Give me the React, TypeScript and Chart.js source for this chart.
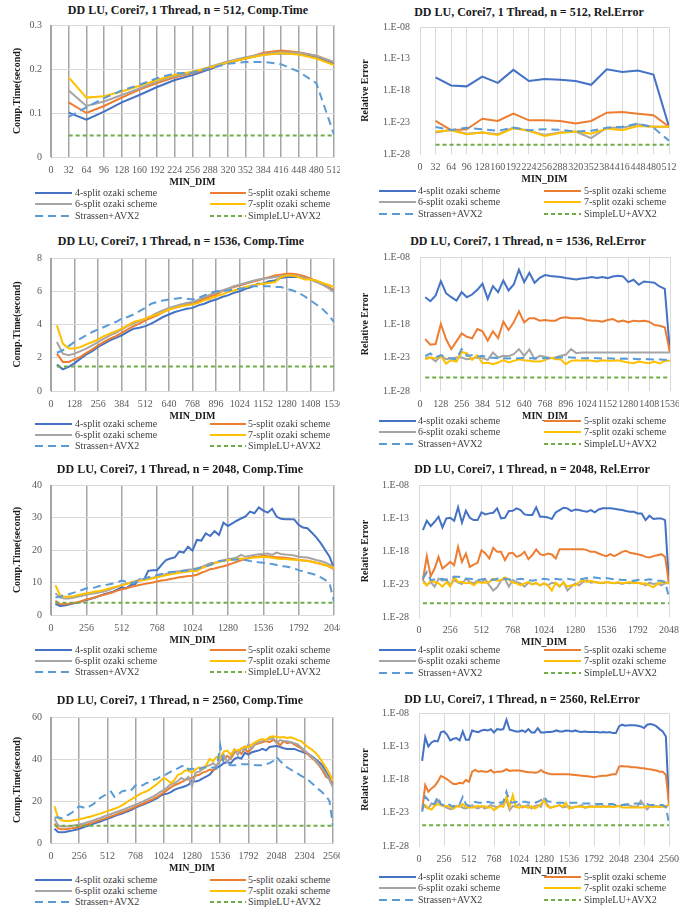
import React, { useEffect, useRef } from "react";
import { Chart, registerables } from "chart.js";

Chart.register(...registerables);

const FONT = '"Liberation Serif", "Times New Roman", serif';
Chart.defaults.font.family = FONT;

// MIN_DIM values (x)
const MIN_DIM = [32,64,96,128,160,192,224,256,288,320,352,384,416,448,480,512,544,576,608,640,672,704,736,768,800,832,864,896,928,960,992,1024,1056,1088,1120,1152,1184,1216,1248,1280,1312,1344,1376,1408,1440,1472,1504,1536,1568,1600,1632,1664,1696,1728,1760,1792,1824,1856,1888,1920,1952,1984,2016,2048,2080,2112,2144,2176,2208,2240,2272,2304,2336,2368,2400,2432,2464,2496,2528,2560];

const SERIES_NAMES = ["4-split ozaki scheme","5-split ozaki scheme","6-split ozaki scheme","7-split ozaki scheme","Strassen+AVX2","SimpleLU+AVX2"];
const SERIES_COLORS = ["#4472C4","#ED7D31","#A5A5A5","#FFC000","#5B9BD5","#70AD47"];
const SERIES_DASH = [[],[],[],[],[8,5],[4,3]];
const ERR_TICKS = [1e-28,1e-23,1e-18,1e-13,1e-8];

// ---------- n = 512 : computation time (s) ----------
const T512_4 = [0.101,0.085,0.103,0.124,0.141,0.159,0.175,0.186,0.200,0.215,0.224,0.233,0.236,0.234,0.227,0.213];
const T512_5 = [0.124,0.100,0.116,0.135,0.153,0.168,0.181,0.190,0.202,0.215,0.224,0.237,0.242,0.238,0.230,0.215];
const T512_6 = [0.151,0.116,0.126,0.141,0.156,0.172,0.184,0.192,0.205,0.217,0.227,0.234,0.238,0.237,0.230,0.216];
const T512_7 = [0.181,0.135,0.138,0.149,0.162,0.175,0.187,0.194,0.204,0.215,0.224,0.232,0.236,0.233,0.224,0.209];
const T512_S = [0.091,0.113,0.134,0.151,0.164,0.179,0.190,0.192,0.202,0.212,0.216,0.216,0.211,0.194,0.168,0.051];
const T512_L = [0.049,0.049,0.049,0.049,0.049,0.049,0.049,0.049,0.049,0.049,0.049,0.049,0.049,0.049,0.049,0.049];

// ---------- n = 512 : relative error (log10) ----------
const E512_4 = [-15.95,-17.2,-17.35,-15.8,-16.8,-14.75,-16.5,-16.2,-16.3,-16.5,-17.1,-14.65,-15.1,-14.85,-15.5,-23.7];
const E512_5 = [-22.8,-24.25,-24.1,-22.45,-22.8,-21.65,-22.7,-22.7,-22.8,-23.2,-22.8,-21.5,-21.4,-21.65,-21.9,-23.7];
const E512_6 = [-24.6,-24.2,-24.8,-24.6,-24.9,-23.85,-24.35,-25.0,-24.6,-24.45,-25.5,-23.85,-23.85,-23.3,-23.7,-23.7];
const E512_7 = [-24.45,-24.25,-24.9,-24.6,-25.0,-23.95,-24.35,-25.15,-24.7,-24.45,-24.8,-24.0,-24.25,-23.6,-23.7,-23.7];
const E512_S = [-23.75,-24.2,-23.85,-24.1,-24.35,-23.85,-24.25,-24.1,-24.2,-24.45,-24.35,-23.85,-23.7,-23.2,-23.85,-25.9];
const E512_L = [-26.55,-26.55,-26.55,-26.55,-26.55,-26.55,-26.55,-26.55,-26.55,-26.55,-26.55,-26.55,-26.55,-26.55,-26.55,-26.55];

// ---------- n = 1536 : computation time (s) ----------
const T1536_4 = [1.6,1.3,1.45,1.68,1.95,2.2,2.4,2.65,2.85,3.05,3.2,3.35,3.55,3.75,3.8,3.9,4.05,4.25,4.45,4.6,4.75,4.85,4.95,5.0,5.15,5.25,5.4,5.5,5.65,5.75,5.9,6.0,6.15,6.25,6.45,6.45,6.6,6.65,6.8,6.85,6.85,6.85,6.8,6.75,6.6,6.45,6.25,6.05];
const T1536_5 = [2.25,1.75,1.75,1.9,2.05,2.3,2.5,2.75,2.95,3.15,3.3,3.5,3.7,3.9,4.05,4.25,4.4,4.55,4.75,4.9,5.0,5.1,5.2,5.25,5.4,5.55,5.7,5.8,6.0,6.15,6.25,6.35,6.45,6.55,6.65,6.75,6.85,6.95,7.0,7.05,7.05,7.0,6.9,6.75,6.6,6.45,6.25,6.05];
const T1536_6 = [2.95,2.25,2.15,2.25,2.4,2.55,2.75,2.95,3.15,3.35,3.5,3.7,3.9,4.05,4.2,4.35,4.5,4.7,4.85,5.0,5.1,5.2,5.3,5.35,5.5,5.65,5.8,5.95,6.05,6.15,6.3,6.4,6.5,6.6,6.7,6.75,6.8,6.85,6.9,6.95,6.95,6.9,6.8,6.7,6.55,6.4,6.2,5.95];
const T1536_7 = [3.95,2.85,2.55,2.55,2.65,2.8,2.95,3.1,3.3,3.45,3.6,3.75,3.95,4.15,4.25,4.35,4.5,4.6,4.75,4.9,5.0,5.1,5.15,5.2,5.3,5.45,5.55,5.7,5.8,5.95,6.05,6.15,6.25,6.35,6.4,6.45,6.5,6.55,6.85,6.95,6.95,6.85,6.7,6.7,6.65,6.5,6.4,6.25];
const T1536_S = [2.3,2.45,2.7,2.95,3.15,3.35,3.55,3.7,3.85,4.0,4.15,4.35,4.45,4.6,4.8,5.0,5.25,5.35,5.45,5.5,5.55,5.6,5.55,5.5,5.6,5.75,5.9,6.0,6.0,6.05,6.1,6.15,6.2,6.3,6.3,6.3,6.3,6.25,6.25,6.15,6.05,5.9,5.7,5.45,5.2,4.95,4.6,4.15];
const T1536_L = [1.48,1.48,1.48,1.48,1.48,1.48,1.48,1.48,1.48,1.48,1.48,1.48,1.48,1.48,1.48,1.48,1.48,1.48,1.48,1.48,1.48,1.48,1.48,1.48,1.48,1.48,1.48,1.48,1.48,1.48,1.48,1.48,1.48,1.48,1.48,1.48,1.48,1.48,1.48,1.48,1.48,1.48,1.48,1.48,1.48,1.48,1.48,1.48];

// ---------- n = 1536 : relative error (log10) ----------
const E1536_4 = [-14,-14.6,-13.75,-11.6,-13.4,-14,-14.5,-13.25,-14,-13.6,-12.9,-12,-14.25,-12.35,-13.25,-11.5,-13,-12.1,-9.9,-11.75,-10.35,-11.85,-11.1,-10.7,-10.85,-10.9,-11,-11.15,-11.25,-11.35,-11.2,-11.15,-11,-11.15,-11,-11.15,-10.9,-10.8,-10.9,-11.75,-11.4,-12.15,-11.65,-11.75,-11.85,-12.4,-12.75,-22.25];
const E1536_5 = [-20.25,-21.1,-21,-18,-20.25,-21.75,-20.6,-19.4,-19.9,-20.15,-18.75,-19.1,-20.5,-19.1,-20.1,-17.65,-18.9,-17.75,-16.1,-17.75,-17.15,-17.15,-17.5,-17.4,-17.5,-17.5,-17.1,-17,-17.15,-17.15,-17.15,-17.4,-17.5,-17.5,-17.65,-17.4,-17.25,-17.65,-17.5,-17.75,-17.5,-17.6,-17.5,-17.65,-18.15,-18.25,-18.5,-22.25];
const E1536_6 = [-23,-23,-23.6,-22.75,-23.25,-23.1,-23,-23,-23.25,-23.15,-23,-23.1,-23.35,-22.25,-23,-22.75,-22.8,-22.5,-21.75,-22.75,-21.8,-23.25,-22.75,-22.9,-23.1,-23,-22.75,-22.6,-21.75,-22.35,-22.25,-22.25,-22.25,-22.25,-22.25,-22.25,-22.25,-22.25,-22.25,-22.25,-22.25,-22.25,-22.25,-22.25,-22.25,-22.25,-22.25,-22.25];
const E1536_7 = [-23.25,-23,-23.15,-22.75,-23.9,-23.4,-23.6,-22.15,-22.4,-23.35,-22.65,-23.85,-23.8,-24,-23.75,-23.4,-23.75,-23.5,-23.25,-23.4,-23.5,-23.6,-23.6,-23.4,-23,-23.25,-23.25,-24,-23.5,-23.4,-23.5,-23.4,-23.5,-23.6,-23.4,-23.5,-23.5,-23.4,-23.6,-23.75,-23.85,-23.6,-23.75,-23.85,-23.6,-23.9,-23.5,-23.5];
const E1536_S = [-22.75,-22.4,-23,-22.65,-23,-23.15,-23.25,-21.75,-22.75,-22.65,-22.9,-22.75,-23,-23.05,-23.1,-23.1,-23.15,-23.1,-23.1,-23.05,-23.1,-23.1,-23.15,-23.1,-23.1,-23.05,-23.0,-22.95,-23.0,-23.05,-23.1,-23.1,-23.05,-23.1,-23.15,-23.1,-23.15,-23.2,-23.15,-23.2,-23.2,-23.25,-23.2,-23.25,-23.3,-23.3,-23.35,-23.45];
const E1536_L = [-26,-26,-26,-26,-26,-26,-26,-26,-26,-26,-26,-26,-26,-26,-26,-26,-26,-26,-26,-26,-26,-26,-26,-26,-26,-26,-26,-26,-26,-26,-26,-26,-26,-26,-26,-26,-26,-26,-26,-26,-26,-26,-26,-26,-26,-26,-26,-26];

// ---------- n = 2048 : computation time (s) ----------
const T2048_4 = [3.4,2.8,2.9,3.2,3.5,3.8,4.2,4.6,5.0,5.4,5.9,6.4,6.8,7.2,7.8,8.5,8.2,9.2,9.5,11.0,10.8,13.6,13.8,13.8,15.4,16.9,17.4,17.7,19.5,19.2,21.0,19.8,23.1,22.9,25.1,24.3,25.8,24.6,28.4,27.4,28.2,29.0,29.7,30.3,31.8,31.3,33.1,32.1,31.5,32.7,30.3,29.6,29.5,29.5,29.4,27.7,26.9,26.7,25.3,23.9,22.1,20.0,17.9,14.4];
const T2048_5 = [4.4,3.4,3.3,3.5,3.7,3.9,4.3,4.8,5.1,5.5,5.9,6.2,6.6,7.0,7.5,7.9,8.2,8.6,8.9,9.2,9.5,9.8,10.0,10.3,10.6,10.8,11.1,11.3,11.6,11.8,12.0,12.1,12.4,13.0,13.5,14.1,14.3,14.7,15.0,15.4,15.9,16.4,16.8,17.2,17.6,17.9,18.0,18.2,18.1,17.9,17.8,17.7,17.6,17.4,17.2,16.9,16.8,16.7,16.4,16.1,15.8,15.4,14.8,14.1];
const T2048_6 = [6.7,5.4,5.1,5.1,5.3,5.6,5.9,6.2,6.5,6.7,7.0,7.2,7.7,8.2,8.7,9.2,9.6,10.0,10.4,10.8,11.0,11.3,11.5,11.8,12.2,12.6,12.9,13.3,13.5,13.7,13.9,14.1,14.4,14.7,15.3,15.9,16.1,16.4,16.8,17.2,17.4,17.7,18.5,17.9,18.2,18.5,18.7,18.8,18.9,18.5,19.2,18.8,18.6,18.5,18.3,17.9,17.8,17.7,17.3,16.9,16.6,16.2,15.5,14.7];
const T2048_7 = [9.2,6.2,5.6,5.6,5.8,6.1,6.4,6.7,6.9,7.2,7.4,7.7,8.1,8.5,8.8,9.2,9.5,9.9,10.2,10.5,10.8,11.0,11.3,11.6,11.9,12.2,12.5,12.8,13.0,13.2,13.4,13.6,13.5,14.4,14.9,15.4,15.9,16.4,16.6,16.9,17.0,17.2,17.3,17.4,17.5,17.7,17.8,17.9,17.8,17.6,17.4,17.2,17.2,17.1,17.0,16.9,16.8,16.6,16.4,16.1,15.7,15.3,14.9,14.4];
const T2048_S = [5.4,5.6,6.2,6.4,6.8,7.2,7.7,8.2,8.3,8.5,8.9,9.2,9.4,9.7,10.1,10.6,10.3,9.7,10.1,10.6,11.1,11.6,12.0,12.3,12.6,13.0,13.2,13.3,13.4,13.6,13.7,13.8,14.2,14.7,15.0,15.4,16.0,16.6,16.8,16.9,17.0,17.1,17.0,16.9,16.6,16.4,16.2,16.1,15.9,15.7,15.4,15.1,14.9,14.7,14.3,13.8,13.4,13.0,12.7,12.3,11.6,10.8,9.7,4.1];
const T2048_L = [3.8,3.8,3.8,3.8,3.8,3.8,3.8,3.8,3.8,3.8,3.8,3.8,3.8,3.8,3.8,3.8,3.8,3.8,3.8,3.8,3.8,3.8,3.8,3.8,3.8,3.8,3.8,3.8,3.8,3.8,3.8,3.8,3.8,3.8,3.8,3.8,3.8,3.8,3.8,3.8,3.8,3.8,3.8,3.8,3.8,3.8,3.8,3.8,3.8,3.8,3.8,3.8,3.8,3.8,3.8,3.8,3.8,3.8,3.8,3.8,3.8,3.8,3.8,3.8];

// ---------- n = 2048 : relative error (log10) ----------
const E2048_4 = [-14.84,-13.42,-14.23,-13.57,-12.81,-14.43,-13.06,-12.96,-13.42,-11.39,-13.72,-11.90,-12.96,-13.32,-13.32,-12.15,-12.46,-12.30,-12.20,-11.54,-13.06,-12.96,-11.95,-11.90,-11.54,-11.80,-12.46,-12.56,-12.56,-11.39,-12.81,-12.81,-12.91,-13.16,-12.15,-11.80,-11.44,-11.54,-11.95,-11.70,-11.80,-11.95,-12.05,-11.80,-12.15,-11.70,-11.54,-11.54,-11.54,-11.59,-11.70,-11.80,-11.95,-12.05,-12.05,-12.30,-12.30,-13.32,-12.66,-13.16,-13.06,-13.06,-13.32,-22.94];
const E2048_5 = [-22.43,-18.78,-21.82,-20.66,-18.89,-20.66,-20.15,-19.65,-20.15,-17.37,-19.65,-18.38,-20.41,-20.05,-19.80,-17.87,-18.38,-19.14,-17.52,-18.13,-18.13,-19.39,-18.38,-18.28,-18.89,-18.63,-18.13,-19.24,-18.63,-17.77,-18.48,-18.63,-18.38,-18.53,-19.14,-17.72,-17.72,-17.72,-17.72,-17.72,-17.72,-17.72,-17.87,-18.13,-18.13,-18.38,-18.63,-18.78,-18.48,-18.78,-18.48,-18.13,-17.97,-18.28,-18.38,-18.48,-18.63,-18.89,-18.99,-18.78,-18.63,-18.48,-18.89,-22.94];
const E2048_6 = [-22.4,-23.2,-22.7,-23.4,-22.2,-22.5,-22.3,-23.2,-22.4,-22.8,-23.0,-22.2,-22.7,-22.9,-22.5,-22.7,-22.3,-23.2,-24.0,-23.5,-22.5,-22.2,-23.4,-22.4,-22.7,-22.9,-23.4,-22.8,-23.0,-22.9,-23.2,-22.9,-23.2,-22.8,-22.9,-23.4,-22.7,-24.0,-23.4,-22.9,-23.2,-22.7,-22.4,-22.8,-22.7,-22.8,-22.9,-22.7,-22.8,-22.9,-22.8,-23.0,-22.8,-22.9,-22.7,-22.8,-22.9,-23.2,-22.8,-23.0,-22.9,-23.2,-22.9,-22.9];
const E2048_7 = [-22.7,-23.2,-22.5,-22.7,-22.9,-23.4,-22.7,-23.4,-21.9,-22.7,-22.7,-22.9,-22.8,-23.2,-22.7,-22.8,-22.8,-22.7,-22.2,-22.5,-22.4,-22.0,-22.3,-22.8,-22.9,-23.2,-22.9,-22.7,-23.1,-22.8,-23.2,-22.9,-23.2,-24.0,-22.8,-23.3,-22.8,-23.4,-23.2,-23.2,-22.7,-22.4,-22.7,-22.5,-22.7,-22.8,-22.8,-22.7,-22.8,-22.9,-22.7,-22.9,-22.8,-22.7,-22.9,-22.8,-23.0,-22.9,-23.2,-23.5,-23.0,-22.8,-22.7,-22.9];
const E2048_S = [-22.2,-21.2,-22.4,-22.3,-22.3,-22.2,-22.4,-22.2,-21.9,-21.9,-22.0,-22.2,-22.2,-22.3,-22.4,-22.3,-22.2,-22.3,-22.4,-22.2,-22.1,-22.2,-22.3,-22.4,-22.3,-22.2,-22.3,-22.4,-22.5,-22.4,-22.3,-22.2,-22.3,-22.4,-22.2,-22.3,-22.3,-22.2,-22.3,-22.4,-22.3,-22.2,-22.1,-22.0,-22.0,-22.1,-22.2,-22.1,-22.2,-22.3,-22.3,-22.4,-22.4,-22.5,-22.5,-22.4,-22.3,-22.4,-22.3,-22.4,-22.5,-22.5,-22.7,-25.0];
const E2048_L = [-25.9,-25.9,-25.9,-25.9,-25.9,-25.9,-25.9,-25.9,-25.9,-25.9,-25.9,-25.9,-25.9,-25.9,-25.9,-25.9,-25.9,-25.9,-25.9,-25.9,-25.9,-25.9,-25.9,-25.9,-25.9,-25.9,-25.9,-25.9,-25.9,-25.9,-25.9,-25.9,-25.9,-25.9,-25.9,-25.9,-25.9,-25.9,-25.9,-25.9,-25.9,-25.9,-25.9,-25.9,-25.9,-25.9,-25.9,-25.9,-25.9,-25.9,-25.9,-25.9,-25.9,-25.9,-25.9,-25.9,-25.9,-25.9,-25.9,-25.9,-25.9,-25.9,-25.9,-25.9];

// ---------- n = 2560 : computation time (s) ----------
const T2560_4 = [6.8,5.2,5.1,5.2,5.6,5.9,6.3,6.8,7.4,8.0,8.5,9.1,9.7,10.2,10.9,11.5,12.1,12.8,13.4,13.9,14.6,15.2,15.9,16.9,17.6,18.2,18.9,19.6,20.4,21.2,22.4,23.2,23.5,24.2,25.3,26.0,26.4,27.0,27.8,29.5,29.3,29.7,30.8,31.6,32.5,34.5,35.8,36.7,38.0,38.5,38.0,40.0,40.8,40.2,42.9,42.1,43.2,43.7,44.1,44.8,44.1,45.7,46.0,46.3,45.7,45.1,44.8,44.8,44.8,44.1,43.5,42.9,42.4,41.3,40.0,38.6,37.0,34.1,31.0,27.0];
const T2560_5 = [9.2,7.0,6.6,6.6,6.8,7.0,7.3,7.7,8.2,8.7,9.2,9.8,10.4,10.9,11.5,12.1,12.7,13.3,13.9,14.5,15.1,15.8,16.5,17.3,18.0,18.7,19.4,20.2,21.0,21.9,22.9,24.0,25.3,26.5,27.5,28.2,29.0,29.8,30.5,31.0,32.0,32.5,33.5,34.0,35.0,34.5,37.0,39.5,40.0,41.5,40.0,43.0,44.0,42.5,45.0,43.0,45.5,47.0,47.5,48.0,48.5,48.0,49.0,48.5,46.5,48.5,47.5,48.0,47.0,46.0,45.0,43.5,42.0,40.5,39.0,37.0,34.5,31.5,30.5,27.0];
const T2560_6 = [11.5,8.5,7.8,7.8,8.0,8.2,8.5,8.8,9.2,9.7,10.2,10.8,11.4,11.9,12.6,13.2,13.8,14.4,15.0,15.6,16.2,16.9,17.6,18.3,19.0,19.7,20.5,21.3,22.2,23.2,24.3,25.2,26.5,28.0,28.5,29.5,31.0,30.0,31.5,27.0,33.5,34.0,35.0,36.5,37.0,38.0,36.5,40.0,42.0,38.5,41.0,44.5,42.0,45.0,44.0,47.0,45.0,47.5,48.0,48.5,49.0,49.5,50.0,47.5,49.0,48.5,48.5,48.0,47.5,47.0,45.5,44.0,42.5,41.0,39.5,37.5,35.5,33.0,30.0,26.5];
const T2560_7 = [17.5,12.0,10.8,10.5,10.5,10.7,11.0,11.3,11.7,12.1,12.5,13.0,13.5,14.0,14.6,15.2,15.7,16.3,17.0,17.8,18.9,20.0,21.0,22.0,23.0,24.0,24.5,25.5,26.8,28.0,29.5,31.0,30.0,28.5,30.0,32.5,33.0,34.5,34.5,33.5,35.0,36.0,35.5,37.0,40.0,39.0,41.0,40.5,43.5,44.0,42.0,44.5,44.0,45.0,46.0,45.5,47.0,48.0,49.0,49.5,49.0,50.5,50.8,50.5,50.2,50.5,50.0,50.3,49.8,49.0,48.5,47.0,45.5,44.5,43.0,41.0,38.5,36.0,33.0,29.5];
const T2560_S = [12.0,12.2,11.8,12.5,13.5,14.5,16.0,17.5,17.0,16.5,17.5,18.5,20.0,21.5,22.5,23.5,24.5,22.0,23.0,24.5,25.0,24.5,25.5,27.5,27.0,27.5,28.5,29.0,30.0,30.5,31.5,32.0,33.0,34.0,35.0,35.5,36.5,37.0,35.0,35.5,35.0,35.0,36.0,36.0,35.5,36.0,35.5,46.5,38.0,37.5,37.0,37.0,37.0,37.5,37.5,37.5,37.5,37.0,37.0,37.0,37.5,38.0,39.0,41.0,39.0,37.5,36.0,35.0,34.0,33.0,32.0,31.0,30.0,28.5,27.0,25.5,24.0,22.5,20.0,8.0];
const T2560_L = [8.2,8.2,8.2,8.2,8.2,8.2,8.2,8.2,8.2,8.2,8.2,8.2,8.2,8.2,8.2,8.2,8.2,8.2,8.2,8.2,8.2,8.2,8.2,8.2,8.2,8.2,8.2,8.2,8.2,8.2,8.2,8.2,8.2,8.2,8.2,8.2,8.2,8.2,8.2,8.2,8.2,8.2,8.2,8.2,8.2,8.2,8.2,8.2,8.2,8.2,8.2,8.2,8.2,8.2,8.2,8.2,8.2,8.2,8.2,8.2,8.2,8.2,8.2,8.2,8.2,8.2,8.2,8.2,8.2,8.2,8.2,8.2,8.2,8.2,8.2,8.2,8.2,8.2,8.2,8.2];

// ---------- n = 2560 : relative error (log10) ----------
const E2560_4 = [-15.20,-11.63,-13.04,-12.43,-12.18,-12.28,-10.92,-10.77,-11.27,-12.13,-11.88,-11.78,-12.13,-10.77,-12.03,-12.03,-10.62,-10.77,-10.87,-10.62,-10.52,-10.62,-10.42,-10.92,-10.42,-10.52,-10.42,-9.01,-10.52,-10.62,-10.77,-10.77,-10.62,-10.87,-10.42,-10.92,-10.92,-10.27,-10.92,-10.92,-10.87,-10.87,-10.77,-10.62,-10.77,-10.77,-10.62,-10.67,-10.77,-10.62,-10.77,-10.87,-10.77,-10.87,-10.87,-10.87,-10.87,-10.92,-10.87,-10.92,-10.87,-11.02,-11.02,-10.02,-9.76,-9.91,-9.86,-9.86,-9.86,-9.91,-10.02,-10.27,-9.76,-9.66,-9.76,-10.02,-10.42,-10.77,-11.53,-21.70];
const E2560_5 = [-22.61,-18.83,-19.84,-19.34,-18.98,-18.33,-17.47,-17.67,-17.97,-18.33,-18.68,-18.68,-18.48,-18.58,-18.08,-18.33,-16.82,-16.56,-16.82,-16.72,-16.82,-16.82,-16.56,-16.97,-16.82,-16.82,-16.72,-16.46,-16.72,-16.66,-16.66,-16.66,-16.72,-16.82,-16.92,-16.92,-16.97,-16.92,-16.56,-16.92,-17.07,-17.17,-17.22,-17.22,-17.22,-17.22,-17.22,-17.22,-17.27,-17.32,-17.37,-17.42,-17.47,-17.52,-17.57,-17.67,-17.57,-17.47,-17.42,-17.42,-17.32,-17.22,-17.22,-16.06,-15.96,-16.06,-16.06,-16.16,-16.16,-16.21,-16.31,-16.31,-16.41,-16.46,-16.56,-16.66,-16.82,-16.82,-17.32,-21.70];
const E2560_6 = [-21.60,-22.11,-22.36,-21.60,-21.85,-21.10,-21.85,-22.00,-22.26,-22.46,-22.36,-22.00,-21.85,-22.26,-22.36,-22.11,-21.85,-22.21,-22.36,-22.00,-22.36,-22.11,-21.85,-22.00,-22.21,-21.85,-21.60,-21.10,-22.61,-22.00,-22.11,-21.70,-22.21,-22.00,-21.85,-22.36,-22.00,-21.85,-22.11,-20.95,-21.70,-22.26,-22.11,-22.00,-21.85,-22.21,-22.11,-22.00,-22.26,-22.11,-22.00,-21.85,-22.26,-22.11,-22.00,-22.11,-22.00,-22.11,-22.00,-22.11,-22.00,-22.11,-21.95,-22.00,-21.85,-21.70,-21.85,-22.00,-22.11,-22.00,-21.20,-21.85,-22.51,-22.00,-22.11,-22.00,-22.11,-22.00,-22.21,-21.70];
const E2560_7 = [-22.11,-21.85,-22.36,-22.51,-22.00,-21.70,-21.85,-22.00,-22.00,-22.11,-22.36,-22.00,-22.11,-21.70,-22.11,-22.21,-22.26,-22.11,-22.00,-22.11,-22.00,-22.26,-22.11,-22.61,-22.26,-22.00,-22.11,-20.59,-22.11,-20.34,-22.11,-22.26,-22.00,-22.11,-22.26,-22.00,-22.36,-22.11,-21.70,-21.10,-22.00,-22.26,-22.11,-22.00,-21.85,-22.11,-21.50,-22.36,-22.26,-22.11,-22.11,-22.11,-22.11,-22.21,-22.11,-22.11,-22.11,-22.11,-22.11,-22.11,-22.11,-22.11,-22.11,-22.00,-22.21,-22.21,-22.21,-22.21,-22.21,-22.21,-22.21,-22.21,-22.00,-22.11,-22.11,-22.11,-22.11,-22.11,-22.11,-21.70];
const E2560_S = [-22.86,-20.59,-21.10,-21.70,-21.60,-20.59,-21.70,-21.85,-21.60,-21.85,-22.11,-21.70,-21.70,-20.59,-21.70,-22.00,-21.60,-21.35,-21.50,-21.50,-21.60,-21.35,-21.50,-21.50,-21.35,-21.50,-21.35,-19.84,-21.35,-21.50,-21.35,-21.50,-21.35,-21.35,-21.50,-21.35,-21.50,-21.35,-21.10,-20.59,-21.25,-21.35,-21.35,-21.50,-21.50,-21.50,-21.50,-21.50,-21.50,-21.50,-21.50,-21.60,-21.60,-21.60,-21.60,-21.60,-21.70,-21.70,-21.70,-21.70,-21.70,-21.70,-21.85,-21.85,-21.85,-21.85,-21.70,-21.70,-21.60,-21.60,-21.70,-21.70,-21.70,-21.85,-21.85,-21.85,-21.85,-21.85,-22.11,-24.62];
const E2560_L = [-24.88,-24.88,-24.88,-24.88,-24.88,-24.88,-24.88,-24.88,-24.88,-24.88,-24.88,-24.88,-24.88,-24.88,-24.88,-24.88,-24.88,-24.88,-24.88,-24.88,-24.88,-24.88,-24.88,-24.88,-24.88,-24.88,-24.88,-24.88,-24.88,-24.88,-24.88,-24.88,-24.88,-24.88,-24.88,-24.88,-24.88,-24.88,-24.88,-24.88,-24.88,-24.88,-24.88,-24.88,-24.88,-24.88,-24.88,-24.88,-24.88,-24.88,-24.88,-24.88,-24.88,-24.88,-24.88,-24.88,-24.88,-24.88,-24.88,-24.88,-24.88,-24.88,-24.88,-24.88,-24.88,-24.88,-24.88,-24.88,-24.88,-24.88,-24.88,-24.88,-24.88,-24.88,-24.88,-24.88,-24.88,-24.88,-24.88,-24.88];

type PanelDef = {
  title: string; kind: "time" | "err"; n: number; step: number;
  yMax?: number; yStep?: number; series: number[][];
  cx: number; cw: number; pl: number; pr: number; pt: number; pb: number;
  tx: number; ty: number; ly: number;
};

const PANELS: PanelDef[] = [
  { title: "DD LU, Corei7, 1 Thread, n = 512, Comp.Time", kind: "time", n: 512, step: 32, yMax: 0.3, yStep: 0.1,
    series: [T512_4, T512_5, T512_6, T512_7, T512_S, T512_L], cx: 0, cw: 340, pl: 51, pr: 334, pt: 25, pb: 157, tx: 188, ty: 10, ly: 193 },
  { title: "DD LU, Corei7, 1 Thread, n = 512, Rel.Error", kind: "err", n: 512, step: 32,
    series: [E512_4, E512_5, E512_6, E512_7, E512_S, E512_L], cx: 340, cw: 339, pl: 420, pr: 669, pt: 27, pb: 154, tx: 529, ty: 12, ly: 191 },
  { title: "DD LU, Corei7, 1 Thread, n = 1536, Comp.Time", kind: "time", n: 1536, step: 128, yMax: 8, yStep: 2,
    series: [T1536_4, T1536_5, T1536_6, T1536_7, T1536_S, T1536_L], cx: 0, cw: 340, pl: 51, pr: 334, pt: 258, pb: 391, tx: 181, ty: 241, ly: 423.5 },
  { title: "DD LU, Corei7, 1 Thread, n = 1536, Rel.Error", kind: "err", n: 1536, step: 128,
    series: [E1536_4, E1536_5, E1536_6, E1536_7, E1536_S, E1536_L], cx: 340, cw: 339, pl: 420, pr: 670, pt: 257, pb: 391, tx: 528, ty: 241, ly: 421 },
  { title: "DD LU, Corei7, 1 Thread, n = 2048, Comp.Time", kind: "time", n: 2048, step: 256, yMax: 40, yStep: 10,
    series: [T2048_4, T2048_5, T2048_6, T2048_7, T2048_S, T2048_L], cx: 0, cw: 340, pl: 51, pr: 334, pt: 485, pb: 615, tx: 180, ty: 469, ly: 649.5 },
  { title: "DD LU, Corei7, 1 Thread, n = 2048, Rel.Error", kind: "err", n: 2048, step: 256,
    series: [E2048_4, E2048_5, E2048_6, E2048_7, E2048_S, E2048_L], cx: 340, cw: 339, pl: 419, pr: 669, pt: 485, pb: 617, tx: 532, ty: 469, ly: 650 },
  { title: "DD LU, Corei7, 1 Thread, n = 2560, Comp.Time", kind: "time", n: 2560, step: 256, yMax: 60, yStep: 20,
    series: [T2560_4, T2560_5, T2560_6, T2560_7, T2560_S, T2560_L], cx: 0, cw: 340, pl: 51, pr: 333, pt: 717, pb: 843, tx: 180, ty: 700, ly: 879.5 },
  { title: "DD LU, Corei7, 1 Thread, n = 2560, Rel.Error", kind: "err", n: 2560, step: 256,
    series: [E2560_4, E2560_5, E2560_6, E2560_7, E2560_S, E2560_L], cx: 340, cw: 339, pl: 419, pr: 669, pt: 713, pb: 846, tx: 522, ty: 699, ly: 877 },
];

const PAD_TOP = 8;
const X_AXIS_H = 31;

function ChartPanel({ p }: { p: PanelDef }) {
  const ref = useRef<HTMLCanvasElement | null>(null);
  const top = p.pt - PAD_TOP;
  const height = p.pb - p.pt + PAD_TOP + X_AXIS_H;
  useEffect(() => {
    const isErr = p.kind === "err";
    const datasets = p.series.map((vals, i) => ({
      label: SERIES_NAMES[i],
      data: vals.map((v, j) => ({ x: MIN_DIM[j], y: isErr ? Math.pow(10, v) : v })),
      borderColor: SERIES_COLORS[i],
      backgroundColor: SERIES_COLORS[i],
      borderWidth: 2,
      borderDash: SERIES_DASH[i],
      pointRadius: 0,
      tension: 0,
      fill: false,
      order: 6 - i,
    }));
    const tickFont = { family: FONT, size: 10 };
    const titleFont = { family: FONT, size: 10, weight: "bold" as const };
    const yScale: any = isErr
      ? {
          type: "logarithmic",
          min: ERR_TICKS[0],
          max: ERR_TICKS[ERR_TICKS.length - 1],
          afterBuildTicks: (s: any) => { s.ticks = ERR_TICKS.map((value) => ({ value })); },
          afterFit: (s: any) => { s.width = p.pl - p.cx; s.paddingTop = 0; s.paddingBottom = 0; },
          ticks: {
            padding: 10, color: "#595959", font: tickFont,
            callback: (v: any) => "1.E-" + String(-Math.round(Math.log10(Number(v)))).padStart(2, "0"),
          },
          grid: {
            drawTicks: false, tickLength: 0, lineWidth: 1,
            color: (ctx: any) => (ctx.index === ERR_TICKS.length - 1 ? "#d9d9d9" : "rgba(0,0,0,0)"),
          },
          border: { display: true, color: "#d9d9d9", width: 1 },
          title: { display: true, text: "Relative Error", color: "#1a1a1a", font: titleFont, padding: { top: 19, bottom: 0 } },
        }
      : {
          type: "linear",
          min: 0,
          max: p.yMax,
          afterFit: (s: any) => { s.width = p.pl - p.cx; s.paddingTop = 0; s.paddingBottom = 0; },
          ticks: { stepSize: p.yStep, padding: 9, color: "#595959", font: tickFont },
          grid: { drawTicks: false, tickLength: 0, color: "#d9d9d9", lineWidth: 1 },
          border: { display: true, color: "#a6a6a6", width: 1 },
          title: { display: true, text: "Comp.Time(second)", color: "#1a1a1a", font: titleFont, padding: { top: 11, bottom: 0 } },
        };
    const chart = new Chart(ref.current as HTMLCanvasElement, {
      type: "line",
      data: { datasets } as any,
      options: {
        animation: false,
        responsive: false,
        events: [],
        layout: { padding: { top: PAD_TOP, right: p.cx + p.cw - p.pr, bottom: 0, left: 0 } },
        plugins: { legend: { display: false }, title: { display: false }, tooltip: { enabled: false } },
        scales: {
          x: {
            type: "linear",
            min: 0,
            max: p.n,
            afterFit: (s: any) => { s.height = X_AXIS_H; s.paddingLeft = 0; s.paddingRight = 0; },
            ticks: {
              stepSize: p.step, autoSkip: false, maxRotation: 0, minRotation: 0, padding: 7,
              color: "#595959", font: tickFont, callback: (v: any) => String(v),
            },
            grid: { drawTicks: false, tickLength: 0, color: isErr ? "#d9d9d9" : "#a6a6a6", lineWidth: isErr ? 1 : 1.5 },
            border: { display: !isErr, color: "#d9d9d9", width: 1 },
            title: { display: true, text: "MIN_DIM", color: "#1a1a1a", font: titleFont, padding: { top: 0, bottom: 0 } },
          },
          y: yScale,
        },
      } as any,
    });
    return () => chart.destroy();
  }, [p]);
  return (
    <canvas
      ref={ref}
      width={p.cw}
      height={height}
      style={{ position: "absolute", left: p.cx, top, width: p.cw, height }}
    />
  );
}

function PanelTitle({ p }: { p: PanelDef }) {
  return (
    <div
      style={{
        position: "absolute", left: p.tx, top: p.ty - 8, height: 16, lineHeight: "16px",
        transform: "translateX(-50%)", whiteSpace: "nowrap",
        fontFamily: FONT, fontWeight: "bold", fontSize: 12, color: "#1a1a1a",
      }}
    >
      {p.title}
    </div>
  );
}

function PanelLegend({ p }: { p: PanelDef }) {
  const left = p.cx === 0;
  const cols = left
    ? [{ sw: 35, len: 37, tx: 75 }, { sw: 210, len: 36, tx: 248 }]
    : [{ sw: 39, len: 37, tx: 78 }, { sw: 204, len: 37, tx: 244 }];
  return (
    <>
      {SERIES_NAMES.map((name, i) => {
        const c = cols[i % 2];
        const y = p.ly + Math.floor(i / 2) * 11.3;
        const dash = SERIES_DASH[i].length ? SERIES_DASH[i].join(",") : undefined;
        return (
          <React.Fragment key={name}>
            <svg
              width={c.len}
              height={4}
              style={{ position: "absolute", left: p.cx + c.sw, top: y - 2 }}
            >
              <line x1={0} y1={2} x2={c.len} y2={2} stroke={SERIES_COLORS[i]} strokeWidth={2} strokeDasharray={dash} />
            </svg>
            <div
              style={{
                position: "absolute", left: p.cx + c.tx, top: y - 6, height: 12, lineHeight: "12px",
                whiteSpace: "nowrap", fontFamily: FONT, fontSize: 10, color: "#404040",
              }}
            >
              {name}
            </div>
          </React.Fragment>
        );
      })}
    </>
  );
}

export default function App() {
  return (
    <div style={{ position: "absolute", left: 0, top: 0, width: 679, height: 914, background: "#ffffff", overflow: "hidden" }}>
      {PANELS.map((p, i) => (
        <React.Fragment key={i}>
          <PanelTitle p={p} />
          <ChartPanel p={p} />
          <PanelLegend p={p} />
        </React.Fragment>
      ))}
    </div>
  );
}
